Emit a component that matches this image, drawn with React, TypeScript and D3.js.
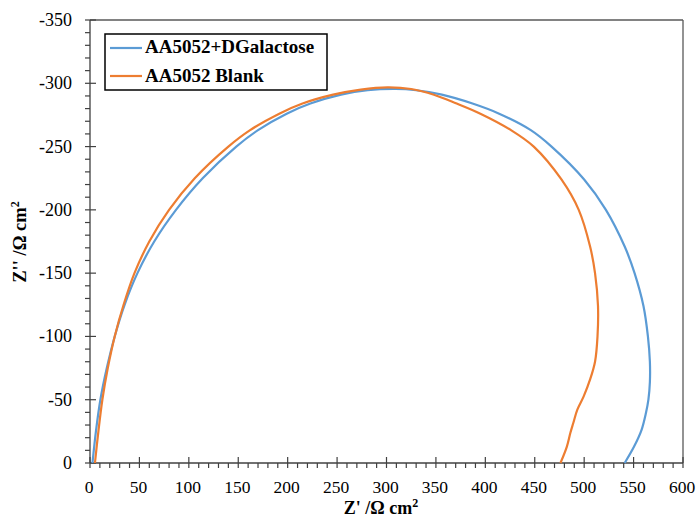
import React from "react";
import * as d3 from "d3";

const galX = [2.5, 6, 10.5, 17, 25, 35, 48, 65, 87, 114, 148, 170, 199, 223, 254, 281, 309, 330, 356, 387, 414, 446, 467, 500, 522, 541, 551, 560, 564.5, 566.5, 566.5, 565, 562.5, 558, 550.5, 541];
const galY = [0, -25, -50, -75, -100, -125, -150, -175, -200, -225, -250, -263, -276, -284, -291, -294.5, -295.5, -294.5, -291, -284, -276, -263, -250, -224, -200, -171, -150, -124, -100, -80, -64, -50, -39.5, -26, -13, 0];
const blankX = [5, 8.5, 12.5, 18, 25, 34, 45, 60, 80, 106, 140, 162, 191.5, 215, 246, 274, 301, 325, 348, 371, 395, 426, 449, 477, 494.5, 506, 511, 514, 513.5, 511, 506, 499.5, 493, 489, 486, 482.5, 476];
const blankY = [0, -25, -50, -75, -100, -125, -150, -175, -200, -225, -250, -263, -276, -284, -291, -295, -296.8, -295.5, -291, -284, -276, -263, -250, -224, -200, -171, -150, -124, -100, -80, -66, -52.6, -42, -31.6, -23.7, -13, 0];

const seriesNames = ["AA5052+DGalactose", "AA5052 Blank"];
const seriesColors = ["#5B9BD5", "#ED7D31"];
const xTicks = [0, 50, 100, 150, 200, 250, 300, 350, 400, 450, 500, 550, 600];
const yTicks = [0, -50, -100, -150, -200, -250, -300, -350];

export default function App() {
  const W = 696, H = 519;
  const L = 90, R = 683, T = 20, B = 463;
  const x = d3.scaleLinear().domain([0, 600]).range([L, R]);
  const y = d3.scaleLinear().domain([0, -350]).range([B, T]);
  const line = d3
    .line<[number, number]>()
    .x((d) => x(d[0]))
    .y((d) => y(d[1]))
    .curve(d3.curveCatmullRom.alpha(0.5));
  const series = [
    galX.map((v, i) => [v, galY[i]] as [number, number]),
    blankX.map((v, i) => [v, blankY[i]] as [number, number]),
  ];
  const xMinor = d3.range(0, 601, 10).filter((v) => v % 50 !== 0);
  const yMinor = d3.range(0, -351, -10).filter((v) => v % 50 !== 0);
  const font = "'Liberation Serif', 'Times New Roman', serif";
  const axisColor = "#404040";

  return (
    <svg width={W} height={H} style={{ position: "absolute", left: 0, top: 0 }} fontFamily={font}>
      <rect x={0} y={0} width={W} height={H} fill="#fff" />
      {/* frame */}
      <line x1={L} x2={R} y1={T} y2={T} stroke="#595959" strokeWidth={1.3} />
      <line x1={R} x2={R} y1={T} y2={B} stroke="#595959" strokeWidth={1.3} />
      {/* axes */}
      <line x1={L} x2={L} y1={T} y2={B} stroke={axisColor} strokeWidth={1.3} />
      <line x1={L} x2={R} y1={B} y2={B} stroke={axisColor} strokeWidth={1.3} />
      {yTicks.map((t) => (
        <g key={"yt" + t}>
          <line x1={L - 5} x2={L + 6} y1={y(t)} y2={y(t)} stroke={axisColor} strokeWidth={1.2} />
          <text x={72} y={y(t) + 6} textAnchor="end" fontSize={18} fill="#000">
            {t}
          </text>
        </g>
      ))}
      {yMinor.map((t) => (
        <line key={"ym" + t} x1={L - 5} x2={L} y1={y(t)} y2={y(t)} stroke={axisColor} strokeWidth={1.2} />
      ))}
      {xTicks.map((t) => (
        <g key={"xt" + t}>
          <line x1={x(t)} x2={x(t)} y1={B - 6} y2={B + 5} stroke={axisColor} strokeWidth={1.2} />
          <text x={x(t) - 1} y={493} textAnchor="middle" fontSize={17.5} fill="#000">
            {t}
          </text>
        </g>
      ))}
      {xMinor.map((t) => (
        <line key={"xm" + t} x1={x(t)} x2={x(t)} y1={B} y2={B + 5} stroke={axisColor} strokeWidth={1.2} />
      ))}
      {/* curves */}
      {series.map((s, i) => (
        <path key={"s" + i} d={line(s) || ""} fill="none" stroke={seriesColors[i]} strokeWidth={2.2} />
      ))}
      {/* legend */}
      <rect x={105} y={34} width={222} height={56} fill="#fff" stroke="#000" strokeWidth={1.5} />
      {seriesNames.map((n, i) => (
        <g key={"lg" + i}>
          <line x1={110} x2={142} y1={48 + i * 28} y2={48 + i * 28} stroke={seriesColors[i]} strokeWidth={2.2} />
          <text x={145} y={53 + i * 28.5} fontSize={19} fontWeight="bold" fill="#000">
            {n}
          </text>
        </g>
      ))}
      {/* axis titles */}
      <text x={381} y={514} textAnchor="middle" fontSize={18} fontWeight="bold" fill="#000">
        Z' /Ω cm<tspan dy={-7} fontSize={12}>2</tspan>
      </text>
      <text
        transform={`translate(26,242) rotate(-90)`}
        textAnchor="middle"
        fontSize={18.5}
        fontWeight="bold"
        fill="#000"
      >
        Z'' /Ω cm<tspan dy={-7} fontSize={12}>2</tspan>
      </text>
    </svg>
  );
}
